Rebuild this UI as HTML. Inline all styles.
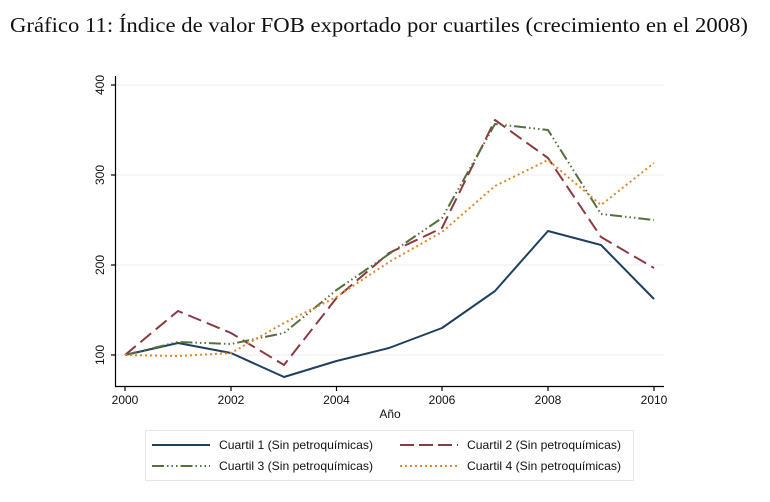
<!DOCTYPE html>
<html><head><meta charset="utf-8"><style>
body{margin:0;background:#fff;width:770px;height:497px;overflow:hidden}
svg text{font-family:"Liberation Sans",sans-serif}
</style></head><body>
<svg width="770" height="497" viewBox="0 0 770 497">
<text x="10" y="32" textLength="738" lengthAdjust="spacingAndGlyphs" style="font-family:'Liberation Serif',serif" font-size="21" fill="#111">Gráfico 11: Índice de valor FOB exportado por cuartiles (crecimiento en el 2008)</text>
<g stroke="#ececec" stroke-width="1">
<line x1="116" y1="85" x2="664" y2="85"/><line x1="116" y1="175" x2="664" y2="175"/><line x1="116" y1="265" x2="664" y2="265"/><line x1="116" y1="355" x2="664" y2="355"/>
</g>
<g stroke="#000" stroke-width="1.2">
<line x1="115.5" y1="76" x2="115.5" y2="386.5"/><line x1="115" y1="386.5" x2="664" y2="386.5"/>
<line x1="111" y1="85" x2="115" y2="85"/><line x1="111" y1="175" x2="115" y2="175"/><line x1="111" y1="265" x2="115" y2="265"/><line x1="111" y1="355" x2="115" y2="355"/>
<line x1="125" y1="387" x2="125" y2="391"/><line x1="231" y1="387" x2="231" y2="391"/><line x1="336.5" y1="387" x2="336.5" y2="391"/><line x1="442" y1="387" x2="442" y2="391"/><line x1="548" y1="387" x2="548" y2="391"/><line x1="654" y1="387" x2="654" y2="391"/>
</g>
<g font-size="12" fill="#111" text-anchor="middle">
<text transform="translate(104,85) rotate(-90)">400</text>
<text transform="translate(104,175) rotate(-90)">300</text>
<text transform="translate(104,265) rotate(-90)">200</text>
<text transform="translate(104,355) rotate(-90)">100</text>
<text x="125" y="404">2000</text><text x="231" y="404">2002</text><text x="336.5" y="404">2004</text><text x="442" y="404">2006</text><text x="548" y="404">2008</text><text x="654" y="404">2010</text>
<text x="390" y="418">Año</text>
</g>
<g fill="none" stroke-width="2" stroke-linejoin="round">
<polyline stroke="#1f3f5f" points="125,355 178,343 231,353 284,377 336.5,361 389,348 442,328 495,291 548,231 601,245 654,299"/>
<polyline stroke="#8b3a42" stroke-dasharray="14,6" points="125,355 178,311 231,333 284,365 336.5,298 389,253 442,228 495,120 548,158 601,237 654,268"/>
<polyline stroke="#55703a" stroke-dasharray="12,3,1.5,3,1.5,3,1.5,3" points="125,355 178,342 231,344 284,333 336.5,290 389,254 442,218 495,124 548,130 601,214 654,220"/>
<polyline stroke="#e0862a" stroke-dasharray="2,3" points="125,355 178,356 231,353 284,323 336.5,297 389,262 442,232 495,186 548,160 601,205 654,163"/>
</g>
<rect x="145.5" y="430.5" width="488" height="50" fill="#fff" stroke="#e6e6e6"/>
<g stroke-width="2">
<line x1="152" y1="445" x2="210" y2="445" stroke="#1f3f5f"/>
<line x1="400" y1="445" x2="458" y2="445" stroke="#8b3a42" stroke-dasharray="14,5"/>
<line x1="152" y1="466" x2="210" y2="466" stroke="#55703a" stroke-dasharray="12,3,1.5,3,1.5,3,1.5,3"/>
<line x1="400" y1="466" x2="458" y2="466" stroke="#e0862a" stroke-dasharray="2,3"/>
</g>
<g font-size="12" fill="#111">
<text x="219" y="449" textLength="154" lengthAdjust="spacingAndGlyphs">Cuartil 1 (Sin petroquímicas)</text>
<text x="467" y="449" textLength="154" lengthAdjust="spacingAndGlyphs">Cuartil 2 (Sin petroquímicas)</text>
<text x="219" y="470" textLength="154" lengthAdjust="spacingAndGlyphs">Cuartil 3 (Sin petroquímicas)</text>
<text x="467" y="470" textLength="154" lengthAdjust="spacingAndGlyphs">Cuartil 4 (Sin petroquímicas)</text>
</g>
</svg>
</body></html>
